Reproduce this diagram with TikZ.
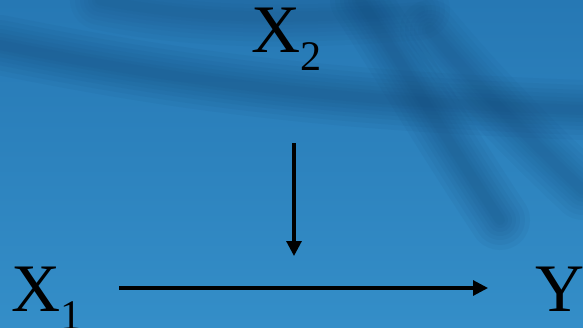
\documentclass[tikz,border=0pt]{standalone}
\usepackage{fontspec}
\setmainfont{Liberation Serif}
\usetikzlibrary{arrows.meta}
\definecolor{topblue}{RGB}{38,120,180}
\definecolor{botblue}{RGB}{52,142,200}
\definecolor{darkblue}{RGB}{20,72,118}
\tikzset{
  lbl/.style={inner sep=0pt, outer sep=0pt, anchor=base west, text=black,
    font=\fontsize{58}{58}\selectfont},
  arr/.style={line width=2.6pt, draw=black,
    -{Triangle[width=0.45cm,length=0.45cm]}},
  streak/.style={draw=darkblue, line cap=round}
}
\newcommand{\subtxt}[1]{\raisebox{-0.27em}{\fontsize{36}{36}\selectfont #1}}
\begin{document}
\begin{tikzpicture}[x=0.03cm,y=-0.03cm]
  \useasboundingbox (0,0) rectangle (583,327);
  \shade[top color=topblue, bottom color=botblue] (0,0) rectangle (583,327);
  % background streaks
  \begin{scope}
    \clip (0,0) rectangle (583,327);
    \foreach \w in {60,50,40,32,24,16,10} {
      \draw[streak, line width=\w*0.03cm, opacity=0.07]
        (0,45) .. controls (150,75) and (300,100) .. (583,110);
      \draw[streak, line width=\w*0.03cm, opacity=0.07]
        (360,0) .. controls (400,60) and (440,130) .. (500,220);
      \draw[streak, line width=\w*0.03cm, opacity=0.06]
        (430,30) .. controls (480,90) and (540,150) .. (583,190);
      \draw[streak, line width=\w*0.03cm, opacity=0.05]
        (100,0) .. controls (200,20) and (300,20) .. (420,10);
    }
  \end{scope}
  % labels
  \node[lbl] (x2) at (251,52) {X\subtxt{2}};
  \node[lbl] (x1) at (11,311) {X\subtxt{1}};
  \node[lbl] (y) at (535,311) {Y};
  % connector ends
  \coordinate (h1) at (119,288);
  \coordinate (h2) at (488,288);
  \coordinate (v1) at (294,143);
  \coordinate (v2) at (294,256);
  \draw[arr] (h1) -- (h2);
  \draw[arr] (v1) -- (v2);
\end{tikzpicture}
\end{document}
